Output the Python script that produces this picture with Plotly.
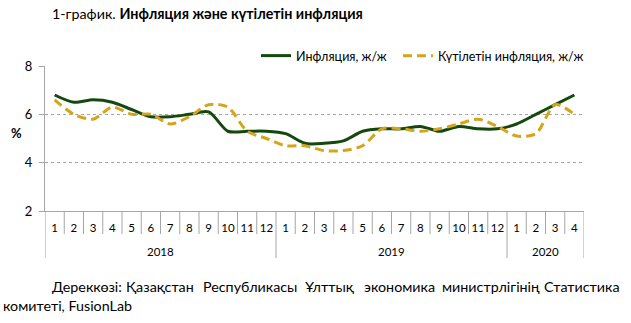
import plotly.graph_objects as go

years = ["2018"] * 12 + ["2019"] * 12 + ["2020"] * 4
months = [str(m) for m in range(1, 13)] * 2 + ["1", "2", "3", "4"]

inflation = [6.8, 6.5, 6.6, 6.5, 6.2, 5.9, 5.9, 6.0, 6.1, 5.3, 5.3, 5.3,
             5.2, 4.8, 4.8, 4.9, 5.3, 5.4, 5.4, 5.5, 5.3, 5.5, 5.4, 5.4,
             5.6, 6.0, 6.4, 6.8]
expected = [6.6, 6.0, 5.8, 6.3, 6.0, 6.0, 5.6, 5.9, 6.4, 6.3, 5.3, 5.0,
            4.7, 4.7, 4.5, 4.5, 4.7, 5.4, 5.4, 5.3, 5.4, 5.6, 5.8, 5.5,
            5.1, 5.2, 6.4, 6.0]

series_names = ["Инфляция, ж/ж", "Күтілетін инфляция, ж/ж"]
title_normal = "1-график. "
title_bold = "Инфляция және күтілетін инфляция"
source_line1 = ["Дереккөзі:", "Қазақстан", "Республикасы", "Ұлттық",
                "экономика", "министрлігінің", "Статистика"]
source_line2 = "комитеті, FusionLab"

FONT = "Lato"
W, H = 631, 323
L, R, T, B = 45, 47, 66, 112
PW, PH = W - L - R, H - T - B
AXIS_GREY = "#a6a6a6"


def px(x):
    return (x - L) / PW


def py(y):
    return (H - B - y) / PH


keys = [f"{y}-{m}" for y, m in zip(years, months)]

fig = go.Figure()
fig.add_trace(go.Scatter(
    x=keys, y=inflation, name=series_names[0], mode="lines",
    line=dict(color="#15480f", width=3, shape="spline", smoothing=0.8),
    legend="legend",
))
fig.add_trace(go.Scatter(
    x=keys, y=expected, name=series_names[1], mode="lines",
    line=dict(color="#d6a418", width=3, shape="spline", smoothing=0.8,
              dash="9px,5px"),
    legend="legend2",
))

SRC_SIZE = 14.3
annotations = [
    dict(x=px(50), y=py(14), xref="paper", yref="paper", xanchor="left",
         yanchor="middle", showarrow=False,
         text=title_normal + "<b>" + title_bold + "</b>",
         font=dict(family=FONT, size=14.3, color="#000")),
    dict(x=px(16), y=py(133), xref="paper", yref="paper", xanchor="center",
         yanchor="middle", showarrow=False, text="<b>%</b>",
         font=dict(family=FONT, size=13, color="#000")),
    dict(x=px(1), y=py(305), xref="paper", yref="paper", xanchor="left",
         yanchor="middle", showarrow=False, text=source_line2,
         font=dict(family=FONT, size=SRC_SIZE, color="#000")),
]
# justified first line: first word left-aligned, last right-aligned,
# the others centred between them
word_pos = [(50, "left"), (160, "center"), (250, "center"),
            (330, "center"), (399, "center"), (491, "center"),
            (622, "right")]
for (wx, anchor), word in zip(word_pos, source_line1):
    annotations.append(dict(
        x=px(wx), y=py(286), xref="paper", yref="paper", xanchor=anchor,
        yanchor="middle", showarrow=False, text=word,
        font=dict(family=FONT, size=SRC_SIZE, color="#000")))

# year groups: labels and dividers
shapes = []
groups = []
start = 0
for i in range(1, len(years) + 1):
    if i == len(years) or years[i] != years[start]:
        groups.append((years[start], start, i - 1))
        start = i
for name, s, e in groups:
    annotations.append(dict(
        x=(s + e) / 2, y=py(251), xref="x", yref="paper", xanchor="center",
        yanchor="middle", showarrow=False, text=name,
        font=dict(family=FONT, size=11.5, color="#000")))
group_edges = {s for _, s, _ in groups} | {len(years)}
for i in range(len(years) + 1):
    bottom = py(258) if i in group_edges else py(234)
    shapes.append(dict(
        type="line", xref="x", yref="paper", x0=i - 0.5, x1=i - 0.5,
        y0=0, y1=bottom, line=dict(color=AXIS_GREY, width=1), layer="below"))

fig.update_layout(
    width=W, height=H,
    margin=dict(l=L, r=R, t=T, b=B),
    paper_bgcolor="white", plot_bgcolor="white",
    font=dict(family=FONT, size=11, color="#000"),
    showlegend=True,
    legend=dict(orientation="h", x=px(256), y=py(56), xanchor="left",
                yanchor="middle", font=dict(family=FONT, size=12.5),
                bgcolor="rgba(0,0,0,0)", itemwidth=30),
    legend2=dict(orientation="h", x=px(398), y=py(56), xanchor="left",
                 yanchor="middle", font=dict(family=FONT, size=12.5),
                 bgcolor="rgba(0,0,0,0)", itemwidth=30),
    annotations=annotations,
    shapes=shapes,
    xaxis=dict(
        type="category", tickvals=keys, ticktext=months, showline=True,
        linecolor=AXIS_GREY, linewidth=1, ticks="", showgrid=False,
        tickangle=0, ticklabelstandoff=6, range=[-0.5, len(keys) - 0.5],
        tickfont=dict(family=FONT, size=11.5, color="#000"),
    ),
    yaxis=dict(
        range=[2, 8], tickvals=[2, 4, 6, 8], showline=True,
        linecolor=AXIS_GREY, ticks="outside", ticklen=5,
        tickcolor=AXIS_GREY, showgrid=True, gridcolor=AXIS_GREY,
        griddash="3px,3px", gridwidth=1, zeroline=False,
        ticklabelstandoff=4,
        tickfont=dict(family=FONT, size=13, color="#000"),
    ),
)

fig.write_html("out.html")
